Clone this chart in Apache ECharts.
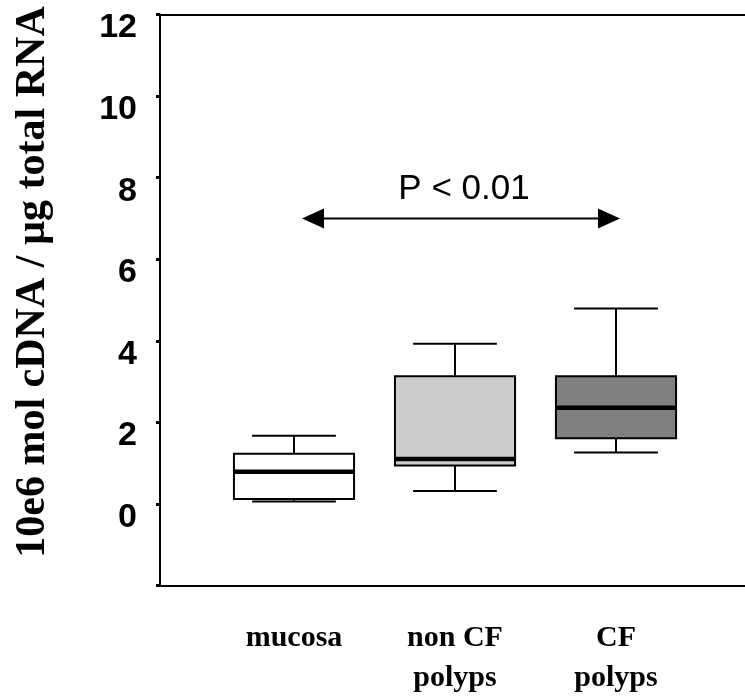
<!DOCTYPE html>
<html>
<head>
<meta charset="utf-8">
<script src="https://cdn.jsdelivr.net/npm/echarts@6/dist/echarts.min.js"></script>
<style>html,body{margin:0;padding:0;background:#fff}#c{width:745px;height:700px}</style>
</head>
<body>
<div id="c"></div>
<script>
// ---- data ----
var categories = ['mucosa', 'non CF\npolyps', 'CF\npolyps'];
var lowWhisker = [0.06, 0.32, 1.26];
var q1 = [0.12, 0.94, 1.61];
var median = [0.79, 1.10, 2.36];
var q3 = [1.23, 3.13, 3.13];
var highWhisker = [1.67, 3.93, 4.79];
var boxColors = ['#ffffff', '#cccccc', '#808080'];
var yTicks = [-2, 0, 2, 4, 6, 8, 10, 12];
var arrowLevel = 7;
var pText = 'P < 0.01';
var yTitle = '10e6 mol cDNA / \u00b5g total RNA';

var boxData = categories.map(function (c, i) {
  return [i, lowWhisker[i], q1[i], median[i], q3[i], highWhisker[i]];
});

var chart = echarts.init(document.getElementById('c'));

function renderBox(params, api) {
  var i = api.value(0);
  var band = api.size([1, 0])[0];
  var cx = api.coord([i, 0])[0];
  var yLow = api.coord([i, api.value(1)])[1];
  var yQ1 = api.coord([i, api.value(2)])[1];
  var yMed = api.coord([i, api.value(3)])[1];
  var yQ3 = api.coord([i, api.value(4)])[1];
  var yHigh = api.coord([i, api.value(5)])[1];
  var bw = band * 0.373;
  var cw = band * 0.26;
  var stroke = {stroke: '#000', lineWidth: 2};
  return {
    type: 'group',
    children: [
      {type: 'line', shape: {x1: cx, y1: yHigh, x2: cx, y2: yQ3}, style: stroke},
      {type: 'line', shape: {x1: cx, y1: yQ1, x2: cx, y2: yLow}, style: stroke},
      {type: 'line', shape: {x1: cx - cw, y1: yHigh, x2: cx + cw, y2: yHigh}, style: stroke},
      {type: 'line', shape: {x1: cx - cw, y1: yLow, x2: cx + cw, y2: yLow}, style: stroke},
      {type: 'rect', shape: {x: cx - bw, y: yQ3, width: 2 * bw, height: yQ1 - yQ3},
        style: {fill: boxColors[i], stroke: '#000', lineWidth: 2}},
      {type: 'line', shape: {x1: cx - bw, y1: yMed, x2: cx + bw, y2: yMed},
        style: {stroke: '#000', lineWidth: 4.5}}
    ]
  };
}

var gridTop = 14.5, gridBottom = 114.5;

chart.setOption({
  animation: false,
  backgroundColor: '#fff',
  grid: [
    {left: 160, right: 0, top: gridTop, bottom: gridBottom, containLabel: false, outerBoundsMode: 'none'},
    {left: 213.5, width: 483, top: gridTop, bottom: gridBottom, containLabel: false, outerBoundsMode: 'none'}
  ],
  xAxis: [
    {type: 'value', gridIndex: 0, position: 'bottom', min: 0, max: 1,
      axisLine: {show: true, onZero: false, lineStyle: {color: '#000', width: 2}},
      axisTick: {show: false}, axisLabel: {show: false}, splitLine: {show: false}},
    {type: 'value', gridIndex: 0, position: 'top', min: 0, max: 1,
      axisLine: {show: true, onZero: false, lineStyle: {color: '#000', width: 2}},
      axisTick: {show: false}, axisLabel: {show: false}, splitLine: {show: false}},
    {type: 'category', gridIndex: 1, data: categories,
      axisLine: {show: false, onZero: false}, axisTick: {show: false}, splitLine: {show: false},
      axisLabel: {show: true, interval: 0, margin: 33, color: '#000',
        fontFamily: 'Liberation Serif', fontWeight: 'bold', fontSize: 30, lineHeight: 40}}
  ],
  yAxis: [
    {type: 'value', gridIndex: 0, min: yTicks[0], max: yTicks[yTicks.length - 1], interval: 2,
      axisLine: {show: true, onZero: false, lineStyle: {color: '#000', width: 2}},
      axisTick: {show: true, length: 4, lineStyle: {color: '#000', width: 3}},
      splitLine: {show: false},
      axisLabel: {show: true, margin: 23, color: '#000', fontFamily: 'Liberation Sans',
        fontWeight: 'bold', fontSize: 34, lineHeight: 27, verticalAlign: 'middle',
        formatter: function (v) { return v < 0 ? '' : '\n' + v; }}},
    {type: 'value', gridIndex: 1, min: yTicks[0], max: yTicks[yTicks.length - 1], interval: 2,
      show: false}
  ],
  series: [{
    type: 'custom',
    xAxisIndex: 2,
    yAxisIndex: 1,
    renderItem: renderBox,
    data: boxData,
    encode: {x: 0, y: [1, 2, 3, 4, 5]}
  }]
});

var yArrow = chart.convertToPixel({yAxisIndex: 1}, arrowLevel);
var xL = 302, xR = 620, ah = 22, aw = 10;
chart.setOption({
  graphic: [
    {type: 'text', rotation: Math.PI / 2, x: 33, y: 282,
      style: {text: yTitle, fontFamily: 'Liberation Serif', fontWeight: 'bold', fontSize: 42,
        fill: '#000', align: 'center', verticalAlign: 'middle'}},
    {type: 'text', x: 464, y: 189.5,
      style: {text: pText, fontFamily: 'Liberation Sans', fontSize: 35, fill: '#000',
        align: 'center', verticalAlign: 'middle'}},
    {type: 'line', shape: {x1: xL + ah - 2, y1: yArrow, x2: xR - ah + 2, y2: yArrow},
      style: {stroke: '#000', lineWidth: 2}},
    {type: 'polygon', shape: {points: [[xL, yArrow], [xL + ah, yArrow - aw], [xL + ah, yArrow + aw]]},
      style: {fill: '#000'}},
    {type: 'polygon', shape: {points: [[xR, yArrow], [xR - ah, yArrow - aw], [xR - ah, yArrow + aw]]},
      style: {fill: '#000'}}
  ]
});
</script>
</body>
</html>
